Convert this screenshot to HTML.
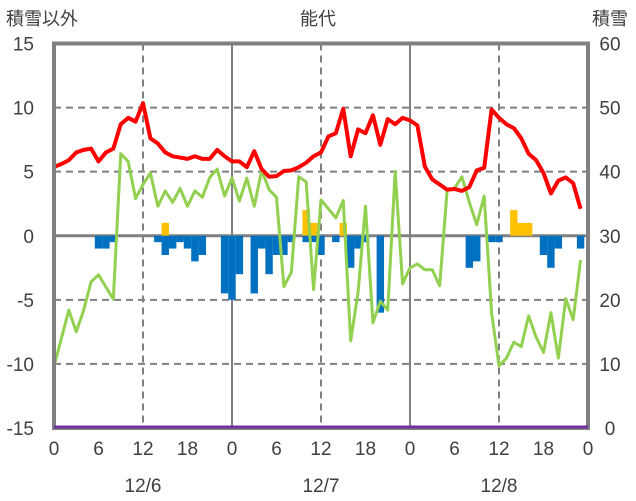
<!DOCTYPE html>
<html><head><meta charset="utf-8"><style>
html,body{margin:0;padding:0;background:#fff;}
svg{display:block;font-family:"Liberation Sans","Noto Sans CJK JP",sans-serif;}
</style></head><body>
<svg id="chart" width="636" height="501">
<text x="6" y="25" font-size="18" fill="#404040">積雪以外</text>
<text x="318" y="25" font-size="18" fill="#404040" text-anchor="middle">能代</text>
<text x="628" y="25" font-size="18" fill="#404040" text-anchor="end">積雪</text>
<g id="grid"></g><g id="bars"></g><g id="lines"></g><g id="frame"></g><g id="labels"></g>
</svg>
<script>
const hours = Array.from({length:72},(_,i)=>i);
const snowDepth = [5.37,5.6,5.9,6.5,6.7,6.8,5.8,6.5,6.8,8.7,9.2,8.9,10.35,7.6,7.2,6.5,6.2,6.1,6.0,6.2,6.0,6.0,6.7,6.2,
5.8,5.8,5.35,6.6,5.2,4.6,4.65,5.05,5.1,5.35,5.7,6.2,6.5,7.75,8.0,9.9,6.2,8.3,8.0,9.4,7.1,9.1,8.7,9.2,
9.0,8.6,5.4,4.4,4.0,3.6,3.65,3.5,3.8,5.1,5.3,9.85,9.2,8.7,8.4,7.6,6.4,5.9,4.9,3.3,4.3,4.55,4.1,2.1];
const temperature = [-10.2,-8.0,-5.8,-7.5,-5.8,-3.6,-3.05,-4.0,-4.95,6.4,5.8,2.9,4.0,4.9,2.3,3.5,2.6,3.7,2.3,3.5,3.0,4.55,5.2,3.1,
4.5,2.7,4.5,2.3,5.1,3.6,3.0,-3.96,-2.85,4.6,4.2,-4.2,2.8,2.1,1.4,2.75,-8.2,-4.4,2.3,-6.8,-5.1,-5.8,5.0,-3.75,
-2.5,-2.2,-2.65,-2.65,-3.9,3.5,3.7,4.6,2.6,0.86,3.1,-6.0,-10.15,-9.55,-8.3,-8.65,-6.25,-7.9,-9.1,-6.0,-9.55,-4.9,-6.55,-1.9];
const snowfallHours = [15,34,35,39,62,63,64];
const snowfallValues = [1,2,1,1,2,1,1];
const meltHours = [6,7,8,14,15,16,17,18,19,20,23,24,25,27,28,29,30,31,32,34,35,36,38,40,41,42,44,56,57,59,60,66,67,68,71];
const meltValues = [-1,-1,-0.5,-0.5,-1.5,-1,-0.5,-1,-2,-1.5,-4.5,-5,-3,-4.5,-1,-3,-1.5,-1.5,-0.5,-0.5,-0.5,-1.5,-0.5,-2.5,-1,-0.5,-6,-2.5,-2,-0.5,-0.5,-1.5,-2.5,-1,-1];
const leftTicks = [15,10,5,0,-5,-10,-15];
const rightTicks = [60,50,40,30,20,10,0];
const xTickLabels = ["0","6","12","18","0","6","12","18","0","6","12","18","0"];
const dayLabels = ["12/6","12/7","12/8"];

const NS="http://www.w3.org/2000/svg";
const X0=54, X1=588, Y0=43.5, Y1=428;
const xs=h=>X0+(X1-X0)*h/72;
const yv=v=>Y1-(v+15)/30*(Y1-Y0);
function mk(tag,attrs,parent){const e=document.createElementNS(NS,tag);for(const k in attrs)e.setAttribute(k,attrs[k]);document.getElementById(parent).appendChild(e);return e;}

leftTicks.forEach(t=>{
  if(t===15||t===-15||t===0)return;
  const l=mk('line',{x1:X0,x2:X1,y1:yv(t),y2:yv(t),stroke:'#808080','stroke-width':2,'stroke-dasharray':'7,5'},'grid');
  
  
});
for(let d=0;d<3;d++){
  const x=xs(d*24+12);
  const l=mk('line',{x1:x,x2:x,y1:Y0,y2:Y1,stroke:'#808080','stroke-width':2,'stroke-dasharray':'7,5'},'grid');
  
  
  if(d>0){
    const m=mk('line',{x1:xs(d*24),x2:xs(d*24),y1:Y0,y2:Y1,stroke:'#808080','stroke-width':2},'grid');
    
    
  }
}
const bw=(X1-X0)/72;
snowfallHours.forEach((h,i)=>{
  const v=snowfallValues[i];
  const r=mk('rect',{x:xs(h)-bw/2,y:yv(v),width:bw,height:yv(0)-yv(v),fill:'#FFC000'},'bars');
  
  
});
meltHours.forEach((h,i)=>{
  const v=meltValues[i];
  const r=mk('rect',{x:xs(h)-bw/2,y:yv(0),width:bw,height:yv(v)-yv(0),fill:'#0070C0'},'bars');
  
  
});
const z=mk('line',{x1:X0,x2:X1,y1:yv(0),y2:yv(0),stroke:'#808080','stroke-width':3},'grid');



const tl=mk('polyline',{points:hours.map(h=>xs(h)+','+yv(temperature[h])).join(' '),fill:'none',stroke:'#92D050','stroke-width':3,'stroke-linejoin':'round'},'lines');


const sl=mk('polyline',{points:hours.map(h=>xs(h)+','+yv(snowDepth[h])).join(' '),fill:'none',stroke:'#FF0000','stroke-width':4,'stroke-linejoin':'round'},'lines');



const fr=mk('path',{d:`M${X0},${Y1} L${X0},${Y0} L${X1},${Y0} L${X1},${Y1} Z`,fill:'none',stroke:'#808080','stroke-width':4},'frame');


const pl=mk('line',{x1:X0,x2:X1,y1:Y1-1,y2:Y1-1,stroke:'#7030A0','stroke-width':3},'frame');



leftTicks.forEach(t=>{
  const e=mk('text',{x:34,y:yv(t)+7,'font-size':19,fill:'#404040','text-anchor':'end'},'labels');
  e.textContent=String(t);
  
  
});
rightTicks.forEach((t,i)=>{
  const e=mk('text',{x:610,y:yv(leftTicks[i])+7,'font-size':19,fill:'#404040','text-anchor':'middle'},'labels');
  e.textContent=String(t);
  
  
});
xTickLabels.forEach((t,i)=>{
  const e=mk('text',{x:xs(i*6),y:455,'font-size':19,fill:'#404040','text-anchor':'middle'},'labels');
  e.textContent=t;
  
  
});
dayLabels.forEach((t,i)=>{
  const e=mk('text',{x:xs(i*24+12),y:492,'font-size':19,fill:'#404040','text-anchor':'middle'},'labels');
  e.textContent=t;
  
  
});
</script>
</body></html>
